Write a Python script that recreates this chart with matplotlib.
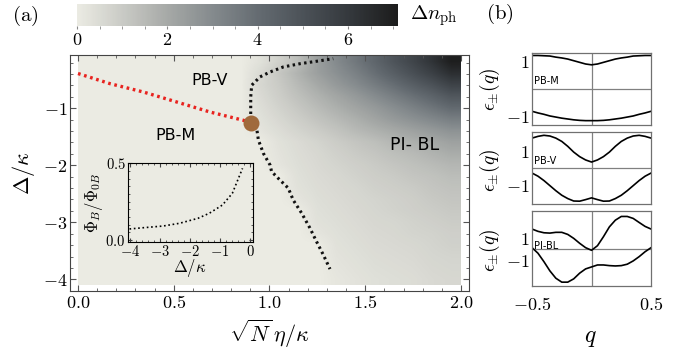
import numpy as np
import matplotlib
matplotlib.use('Agg')
import matplotlib.pyplot as plt
from matplotlib.colors import LinearSegmentedColormap
from matplotlib.ticker import MultipleLocator

plt.rcParams['mathtext.fontset'] = 'cm'
plt.rcParams['font.family'] = ['DejaVu Sans']

# ---- panel (a): photon number difference ----
# columns: x = 0.05 .. 1.95 (step 0.1), rows: y = -0.2 (top) .. -4.0 (bottom)
dn_grid = [
    [0, 0, 0, 0, 0, 0, 0, 0, 0, 0.3, 0.8, 1.4, 2.3, 3.0, 3.6, 4.2, 4.9, 5.5, 6.2, 7.0],
    [0, 0, 0, 0, 0, 0, 0, 0, 0, 0.5, 1.1, 1.7, 2.3, 2.8, 3.3, 3.9, 4.5, 5.1, 5.7, 6.4],
    [0, 0, 0, 0, 0, 0, 0, 0, 0, 0.6, 1.0, 1.5, 2.0, 2.5, 2.95, 3.45, 3.95, 4.5, 5.0, 5.6],
    [0, 0, 0, 0, 0, 0, 0, 0, 0, 0.5, 0.9, 1.3, 1.7, 2.1, 2.5, 2.95, 3.4, 3.85, 4.3, 4.8],
    [0, 0, 0, 0, 0, 0, 0, 0, 0, 0.4, 0.75, 1.1, 1.45, 1.8, 2.15, 2.5, 2.9, 3.3, 3.7, 4.1],
    [0, 0, 0, 0, 0, 0, 0, 0, 0, 0.3, 0.6, 0.9, 1.2, 1.5, 1.8, 2.15, 2.5, 2.8, 3.1, 3.4],
    [0, 0, 0, 0, 0, 0, 0, 0, 0, 0.2, 0.45, 0.7, 0.95, 1.2, 1.5, 1.75, 2.0, 2.25, 2.5, 2.75],
    [0, 0, 0, 0, 0, 0, 0, 0, 0, 0, 0.3, 0.5, 0.7, 0.95, 1.15, 1.35, 1.6, 1.8, 2.0, 2.25],
    [0, 0, 0, 0, 0, 0, 0, 0, 0, 0, 0.25, 0.45, 0.6, 0.8, 1.0, 1.15, 1.35, 1.5, 1.7, 1.9],
    [0, 0, 0, 0, 0, 0, 0, 0, 0, 0, 0.2, 0.4, 0.55, 0.7, 0.85, 1.0, 1.15, 1.3, 1.45, 1.6],
    [0, 0, 0, 0, 0, 0, 0, 0, 0, 0, 0, 0.35, 0.5, 0.6, 0.75, 0.9, 1.0, 1.15, 1.25, 1.4],
    [0, 0, 0, 0, 0, 0, 0, 0, 0, 0, 0, 0.3, 0.45, 0.55, 0.65, 0.8, 0.9, 1.0, 1.15, 1.25],
    [0, 0, 0, 0, 0, 0, 0, 0, 0, 0, 0, 0.2, 0.4, 0.5, 0.6, 0.7, 0.8, 0.9, 1.05, 1.15],
    [0, 0, 0, 0, 0, 0, 0, 0, 0, 0, 0, 0, 0.35, 0.45, 0.55, 0.65, 0.75, 0.85, 0.95, 1.05],
    [0, 0, 0, 0, 0, 0, 0, 0, 0, 0, 0, 0, 0.3, 0.4, 0.5, 0.6, 0.65, 0.75, 0.85, 0.95],
    [0, 0, 0, 0, 0, 0, 0, 0, 0, 0, 0, 0, 0.2, 0.35, 0.45, 0.55, 0.6, 0.7, 0.75, 0.85],
    [0, 0, 0, 0, 0, 0, 0, 0, 0, 0, 0, 0, 0, 0.3, 0.4, 0.5, 0.55, 0.6, 0.7, 0.8],
    [0, 0, 0, 0, 0, 0, 0, 0, 0, 0, 0, 0, 0, 0.25, 0.35, 0.45, 0.5, 0.55, 0.65, 0.7],
    [0, 0, 0, 0, 0, 0, 0, 0, 0, 0, 0, 0, 0, 0.2, 0.3, 0.4, 0.45, 0.5, 0.6, 0.65],
    [0, 0, 0, 0, 0, 0, 0, 0, 0, 0, 0, 0, 0, 0.15, 0.25, 0.35, 0.4, 0.45, 0.55, 0.6],
]

# PB-M / PB-V boundary (red)
red_x = [0.0, 0.167, 0.341, 0.515, 0.689, 0.863, 0.905]
red_y = [-0.39, -0.568, -0.714, -0.889, -1.065, -1.21, -1.25]

# PB-V / PI-BL boundary (black, upper branch)
up_x = [0.902, 0.902, 0.907, 0.95, 1.003, 1.072, 1.159, 1.246, 1.333]
up_y = [-1.1, -0.8, -0.596, -0.45, -0.363, -0.275, -0.218, -0.175, -0.13]

# PB-M / PI-BL boundary (black, lower branch)
lo_x = [0.925, 0.933, 0.942, 0.968, 1.003, 1.011, 1.055, 1.098, 1.124, 1.168, 1.211, 1.246, 1.281, 1.316]
lo_y = [-1.3, -1.35, -1.556, -1.79, -1.995, -2.11, -2.26, -2.40, -2.61, -2.84, -3.1, -3.34, -3.57, -3.82]

tri_x = 0.905
tri_y = -1.25

# inset: flux ratio vs detuning
ins_x = [-4.02, -3.56, -2.9, -2.35, -1.74, -1.36, -0.92, -0.59, -0.25]
ins_y = [0.072, 0.08, 0.091, 0.109, 0.141, 0.174, 0.228, 0.304, 0.467]

# ---- panel (b): band structures ----
q = [-0.5, -0.45, -0.4, -0.35, -0.3, -0.25, -0.2, -0.15, -0.1, -0.05, 0.0,
     0.05, 0.1, 0.15, 0.2, 0.25, 0.3, 0.35, 0.4, 0.45, 0.5]
pbm_up = [1.21, 1.21, 1.2, 1.19, 1.15, 1.12, 1.08, 1.02, 0.96, 0.9, 0.87,
          0.9, 0.96, 1.02, 1.08, 1.12, 1.15, 1.19, 1.2, 1.21, 1.21]
pbm_lo = [-0.82, -0.88, -0.93, -0.99, -1.03, -1.07, -1.1, -1.13, -1.15, -1.16, -1.16,
          -1.16, -1.15, -1.13, -1.1, -1.07, -1.03, -0.99, -0.93, -0.88, -0.82]
pbv_up = [1.71, 1.81, 1.87, 1.83, 1.71, 1.52, 1.24, 0.91, 0.65, 0.46, 0.34,
          0.46, 0.65, 0.91, 1.24, 1.52, 1.71, 1.83, 1.87, 1.81, 1.71]
pbv_lo = [-0.29, -0.47, -0.72, -1.01, -1.30, -1.56, -1.75, -1.89, -1.90, -1.81, -1.71,
          -1.81, -1.90, -1.89, -1.75, -1.56, -1.30, -1.01, -0.72, -0.47, -0.29]
pibl_up = [1.85, 1.64, 1.51, 1.48, 1.55, 1.55, 1.36, 1.0, 0.55, 0.15, -0.09,
           0.33, 1.15, 2.05, 2.66, 3.0, 3.0, 2.82, 2.45, 2.09, 1.85]
pibl_lo = [0.15, -0.36, -1.13, -1.97, -2.64, -3.0, -3.0, -2.7, -2.18, -1.79, -1.61,
           -1.43, -1.43, -1.49, -1.52, -1.49, -1.36, -1.06, -0.67, -0.22, 0.15]

cbar_ticks = [0, 2, 4, 6]

cmap = LinearSegmentedColormap.from_list(
    'dn', ['#ebebe3', '#c9cac5', '#a5a8a6', '#83898c', '#636a70', '#4a5056', '#33373b', '#1c1c1c'])


def mlabels(vals, spec):
    return ['$' + (spec % v) + '$' for v in vals]


fig = plt.figure(figsize=(6.88, 3.55), dpi=100)

# main panel
ax = fig.add_axes([0.1017, 0.1803, 0.58, 0.6648])
im = ax.imshow(np.array(dn_grid), extent=[0, 2, -4.1, -0.1], origin='upper', cmap=cmap,
               vmin=0, vmax=7.1, aspect='auto', interpolation='bilinear')
dots = (0, (0.8, 1.1))
ax.plot(red_x, red_y, color='#e8231f', lw=2.4, ls=dots)
ax.plot(up_x, up_y, color='#111111', lw=2.2, ls=dots)
ax.plot(lo_x, lo_y, color='#111111', lw=2.2, ls=dots)
ax.plot([tri_x], [tri_y], 'o', ms=11.5, color='#a06a3c', mec='none')
ax.set_xlim(-0.042, 2.042)
ax.set_ylim(-4.205, -0.065)

xt = [0.0, 0.5, 1.0, 1.5, 2.0]
ax.set_xticks(xt)
ax.set_xticklabels(mlabels(xt, '%.1f'), fontsize=13)
yt = [-4, -3, -2, -1]
ax.set_yticks(yt)
ax.set_yticklabels(mlabels(yt, '%d'), fontsize=13)
ax.xaxis.set_minor_locator(MultipleLocator(0.1))
ax.yaxis.set_minor_locator(MultipleLocator(0.2))
ax.tick_params(which='both', direction='in', top=True, right=True, color='#555555', pad=2)
ax.tick_params(which='major', length=4)
ax.tick_params(which='minor', length=2)
for s in ax.spines.values():
    s.set_color('#444444')
ax.set_xlabel(r'$\sqrt{N}\,\eta/\kappa$', fontsize=16, labelpad=4)
ax.set_ylabel(r'$\Delta/\kappa$', fontsize=16, labelpad=4)

ax.text(0.689, -0.51, 'PB-V', fontsize=11.5, ha='center', va='center')
ax.text(0.507, -1.47, 'PB-M', fontsize=11.5, ha='center', va='center')
ax.text(1.76, -1.64, 'PI- BL', fontsize=12.5, ha='center', va='center')

# inset
axin = fig.add_axes([0.1856, 0.3192, 0.1817, 0.2208])
axin.patch.set_alpha(0)
axin.plot(ins_x, ins_y, color='k', lw=1.2, ls=(0, (1, 1.6)))
axin.set_xlim(-4.08, 0.09)
axin.set_ylim(-0.011, 0.5)
ixt = [-4, -3, -2, -1, 0]
axin.set_xticks(ixt)
axin.set_xticklabels(mlabels(ixt, '%d'), fontsize=10.5)
iyt = [0.0, 0.5]
axin.set_yticks(iyt)
axin.set_yticklabels(mlabels(iyt, '%.1f'), fontsize=10.5)
axin.xaxis.set_minor_locator(MultipleLocator(0.2))
axin.yaxis.set_minor_locator(MultipleLocator(0.05))
axin.tick_params(which='both', direction='in', top=True, right=True, color='#444444', pad=1.5)
axin.tick_params(which='major', length=3)
axin.tick_params(which='minor', length=1.5)
axin.set_xlabel(r'$\Delta/\kappa$', fontsize=12, labelpad=-1)
axin.set_ylabel(r'$\Phi_B/\Phi_{0B}$', fontsize=12, labelpad=0)

# colour bar
cax = fig.add_axes([0.112, 0.927, 0.466, 0.062])
cb = fig.colorbar(im, cax=cax, orientation='horizontal')
cb.outline.set_visible(False)
cb.set_ticks(cbar_ticks)
cb.set_ticklabels(mlabels(cbar_ticks, '%d'))
cax.xaxis.set_minor_locator(MultipleLocator(0.5))
cax.tick_params(which='both', direction='out', length=2.5, color='#888888', labelsize=13, pad=1)
fig.text(0.596, 0.955, r'$\Delta n_{\rm ph}$', fontsize=15, ha='left', va='center')

fig.text(0.036, 0.955, r'$\mathrm{(a)}$', fontsize=15, ha='center', va='center')
fig.text(0.727, 0.96, r'$\mathrm{(b)}$', fontsize=15, ha='center', va='center')

# band panels
panels = [
    ([0.7733, 0.647, 0.173, 0.2037], (-1.33, 1.3), pbm_up, pbm_lo, 'PB-M', 0.27, 0.749),
    ([0.7733, 0.4254, 0.173, 0.2028], (-2.06, 2.06), pbv_up, pbv_lo, 'PB-V', 0.38, 0.52),
    ([0.7733, 0.1944, 0.173, 0.2113], (-3.35, 3.5), pibl_up, pibl_lo, 'PI-BL', 0.33, 0.295),
]
for i, (pos, ylim, up, lo, name, ty, ly) in enumerate(panels):
    pa = fig.add_axes(pos)
    pa.axhline(0, color='#808080', lw=0.9)
    pa.axvline(0, color='#808080', lw=0.9)
    pa.plot(q, up, color='k', lw=1.2)
    pa.plot(q, lo, color='k', lw=1.2)
    pa.set_xlim(-0.5, 0.5)
    pa.set_ylim(*ylim)
    pa.set_yticks([-1, 1])
    pa.set_yticklabels(['$-1$', '$1$'], fontsize=13)
    if i == 2:
        pa.set_xticks([-0.5, 0.5])
        pa.set_xticklabels(['$-0.5$', '$0.5$'], fontsize=13)
    else:
        pa.set_xticks([])
    pa.tick_params(length=0, pad=2)
    pa.tick_params(axis='x', pad=7)
    for s in pa.spines.values():
        s.set_color('#707070')
        s.set_linewidth(0.9)
    pa.text(-0.48, ty, name, fontsize=7, ha='left', va='center')
    fig.text(0.712, ly, r'$\epsilon_{\pm}(q)$', fontsize=14, rotation=90, ha='center', va='center')

fig.text(0.858, 0.05, r'$q$', fontsize=17, ha='center', va='center')

fig.savefig('out.png', dpi=100)
